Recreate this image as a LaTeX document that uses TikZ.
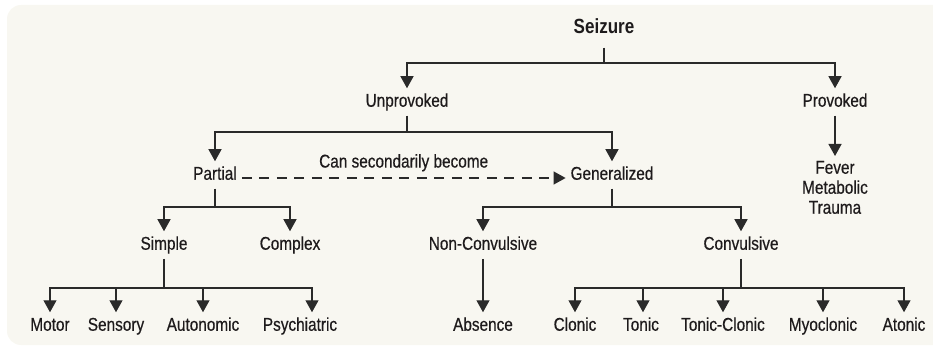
\documentclass[tikz,border=0pt]{standalone}
\usepackage{fontspec}
\setmainfont[FakeStretch=0.83, FakeBold=0.5, BoldFeatures={FakeBold=0}]{Liberation Sans}
\usetikzlibrary{arrows.meta}
\definecolor{bgc}{HTML}{F8F7F1}
\definecolor{ink}{HTML}{1E1B1C}
\definecolor{lnc}{HTML}{2A2A2A}
\tikzset{
  lbl/.style={text=ink, font=\fontsize{18.5}{21}\selectfont, inner sep=0pt, outer sep=5pt, text height=13.5pt, text depth=4pt},
  rootlbl/.style={text=ink, font=\bfseries\fontsize{20.5}{24}\selectfont, inner sep=0pt, outer sep=10pt, text height=15pt, text depth=4.5pt},
  multilbl/.style={text=ink, font=\fontsize{18.5}{20}\selectfont, inner sep=0pt, outer sep=0pt, align=center},
  ln/.style={draw=lnc, line width=1.2pt},
  arr/.style={ln, -{Triangle[width=13pt,length=12pt]}},
  dasharr/.style={arr, dash pattern=on 10pt off 7.5pt}
}
\begin{document}
\begin{tikzpicture}[x=1pt,y=-1pt]
\useasboundingbox (0,0) rectangle (933,347);
\begin{scope}
  \clip (0,0) rectangle (933,347);
  \fill[bgc, rounded corners=14pt] (7,5) rectangle (960,345);
\end{scope}

% nodes
\node[rootlbl] (seizure) at (604,28) {Seizure};
\node[lbl] (unprov) at (407,102) {Unprovoked};
\node[lbl] (prov) at (835,102) {Provoked};
\node[multilbl, anchor=north] (fever) at (835,161) {Fever\\Metabolic\\Trauma};
\node[lbl] (partial) at (215,175) {Partial};
\node[lbl] (general) at (612,175) {Generalized};
\node[lbl] (simple) at (164,245) {Simple};
\node[lbl] (complex) at (290,245) {Complex};
\node[lbl] (noncon) at (483,245) {Non-Convulsive};
\node[lbl] (convul) at (741,245) {Convulsive};
\node[lbl] (motor) at (50,326) {Motor};
\node[lbl] (sensory) at (116,326) {Sensory};
\node[lbl] (autonomic) at (203,326) {Autonomic};
\node[lbl] (psych) at (300,326) {Psychiatric};
\node[lbl] (absence) at (483,326) {Absence};
\node[lbl] (clonic) at (575,326) {Clonic};
\node[lbl] (tonic) at (641,326) {Tonic};
\node[lbl] (tonclon) at (723,326) {Tonic-Clonic};
\node[lbl] (myoclon) at (823,326) {Myoclonic};
\node[lbl] (atonic) at (904,326) {Atonic};

% bar junctions
\coordinate (b0) at (604,63);
\coordinate (b1) at (407,132);
\coordinate (b2) at (215,207);
\coordinate (b3) at (612,207);
\coordinate (b4) at (164,288);
\coordinate (b5) at (741,288);

% connectors
\draw[ln] (seizure) -- (b0);
\draw[arr] (b0) -| (unprov);
\draw[arr] (b0) -| (prov);

\draw[ln] (unprov) -- (b1);
\draw[arr] (b1) -| (partial);
\draw[arr] (b1) -| (general);

\draw[arr, shorten >=5pt] (prov) -- (fever);

\draw[dasharr] ([yshift=-3pt]partial.east) -- ([yshift=-3pt]general.west)
  node[midway, above=6pt, text=ink, font=\fontsize{18.5}{21}\selectfont, inner sep=0pt] (canlbl) {Can secondarily become};

\draw[ln] (partial) -- (b2);
\draw[arr] (b2) -| (simple);
\draw[arr] (b2) -| (complex);

\draw[ln] (general) -- (b3);
\draw[arr] (b3) -| (noncon);
\draw[arr] (b3) -| (convul);

\draw[ln] (simple) -- (b4);
\draw[arr] (b4) -| (motor);
\draw[arr] (b4) -| (sensory);
\draw[arr] (b4) -| (autonomic);
\draw[arr] (b4) -| ([xshift=12pt]psych.north);

\draw[arr] (noncon) -- (absence);

\draw[ln] (convul) -- (b5);
\draw[arr] (b5) -| (clonic);
\draw[arr] (b5) -| ([xshift=2pt]tonic.north);
\draw[arr] (b5) -| (tonclon);
\draw[arr] (b5) -| (myoclon);
\draw[arr] (b5) -| (atonic);
\end{tikzpicture}
\end{document}
